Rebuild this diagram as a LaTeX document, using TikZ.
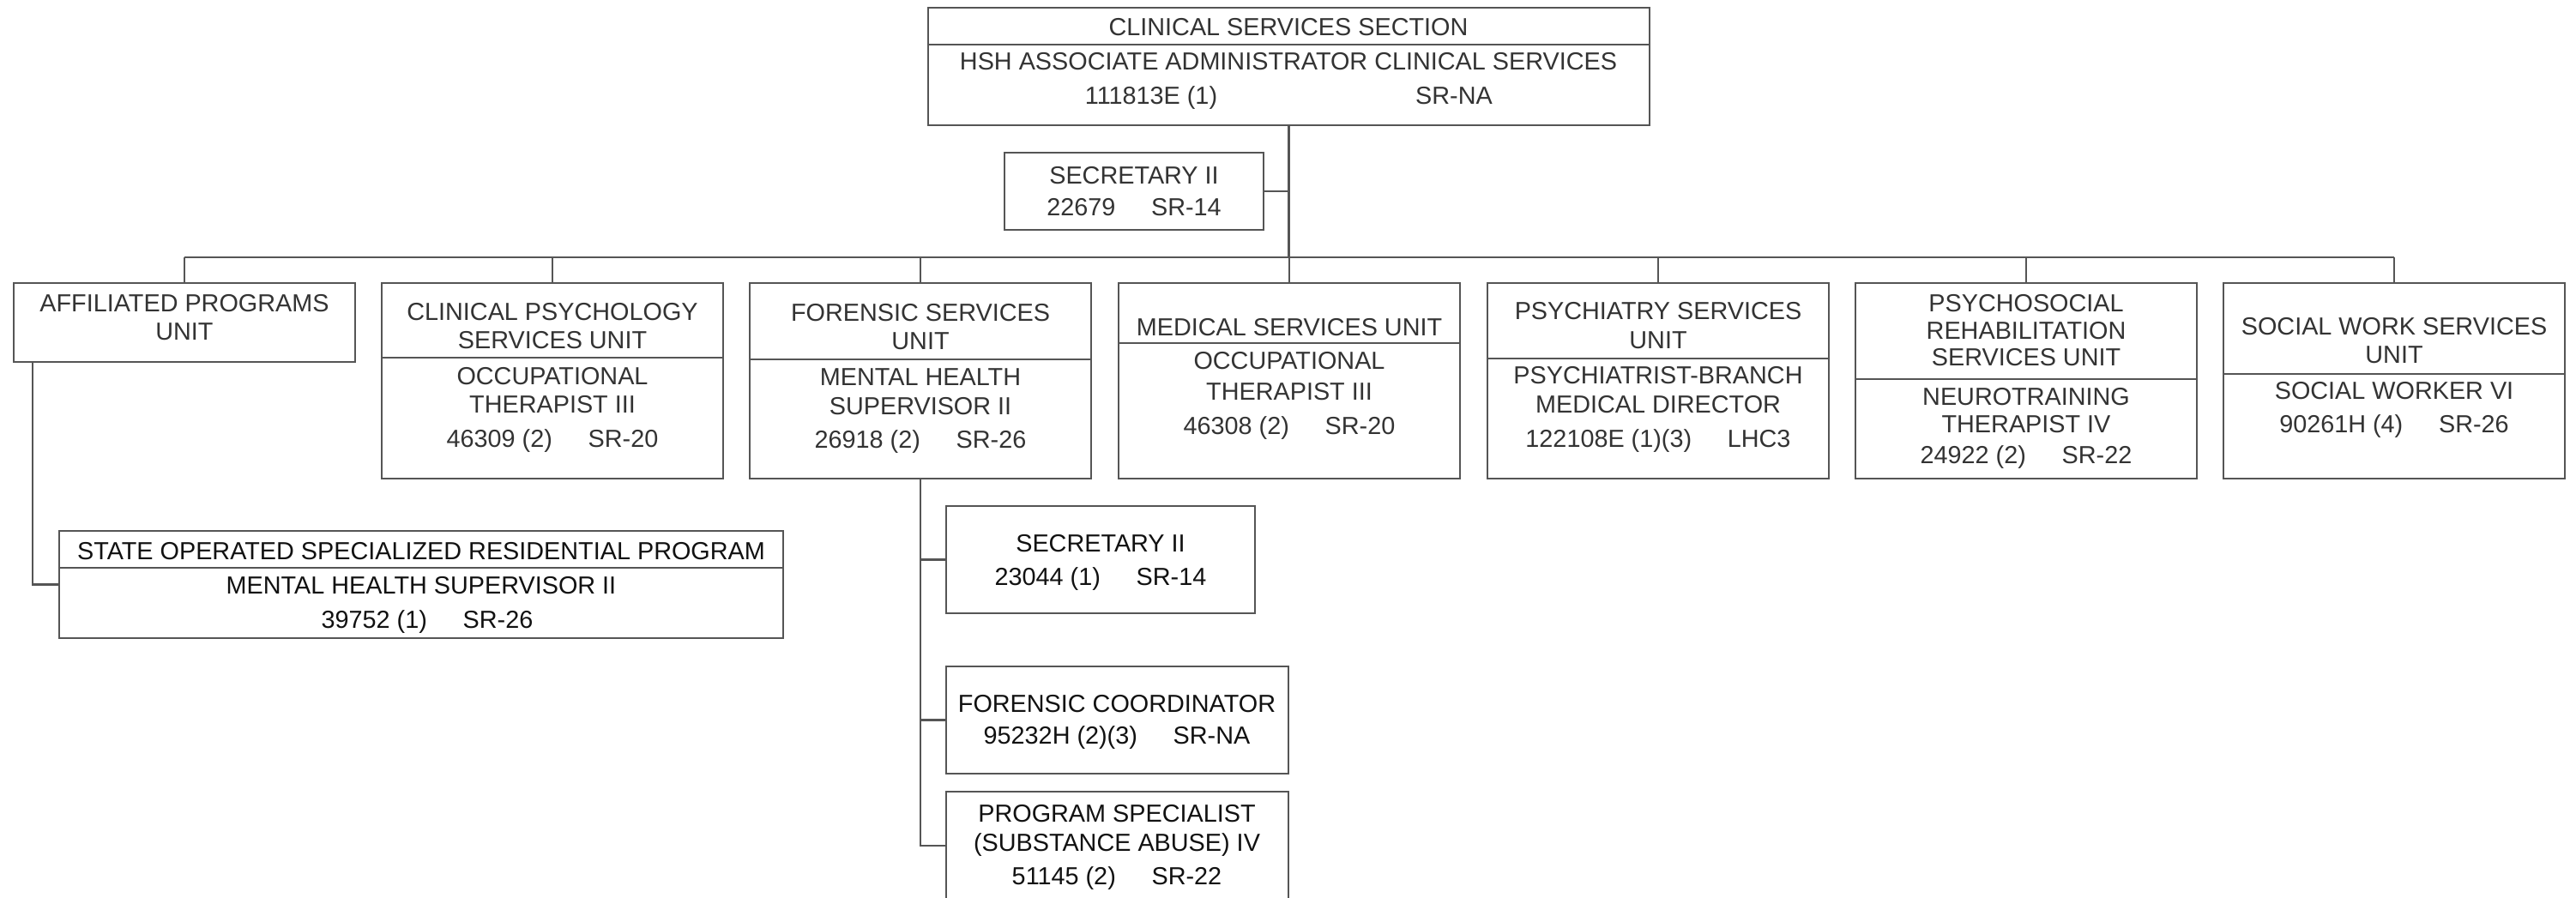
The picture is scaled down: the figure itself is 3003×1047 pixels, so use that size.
\documentclass[tikz,border=0pt]{standalone}
\usepackage{fontspec}
\setmainfont{Liberation Sans}
\usetikzlibrary{fit}
\definecolor{linec}{HTML}{555555}
\definecolor{txtc}{HTML}{333333}
\definecolor{txtd}{HTML}{111111}
\newcommand{\fsz}{\fontsize{7.2bp}{8.6bp}\selectfont}
\newcommand{\gp}{\hspace{1.45em}}
\begin{document}
\begin{tikzpicture}[x=0.25bp, y=-0.25bp,
  box/.style={draw=linec, line width=0.6bp, inner sep=0pt, rectangle},
  conn/.style={draw=linec, line width=0.6bp},
  t/.style={anchor=base, inner sep=0pt, font=\fsz, text=txtc},
  td/.style={t, text=txtd}]
\clip (0,0) rectangle (3003,1047);
\fill[white] (0,0) rectangle (3003,1047);

% boxes
\node[box, fit={(1082,9) (1923,146)}] (top) {};
\node[box, fit={(1171,178) (1473,268)}] (sec1) {};
\node[box, fit={(16,330) (414,422)}] (aff) {};
\node[box, fit={(445,330) (843,558)}] (cps) {};
\node[box, fit={(874,330) (1272,558)}] (fsu) {};
\node[box, fit={(1304,330) (1702,558)}] (msu) {};
\node[box, fit={(1734,330) (2132,558)}] (psu) {};
\node[box, fit={(2163,330) (2561,558)}] (prs) {};
\node[box, fit={(2592,330) (2990,558)}] (sws) {};
\node[box, fit={(69,619) (913,744)}] (sosrp) {};
\node[box, fit={(1103,590) (1463,715)}] (sec2) {};
\node[box, fit={(1103,777) (1502,902)}] (fco) {};
\node[box, fit={(1103,923) (1502,1049)}] (psp) {};

% dividers
\draw[conn] (top.west |- 0,52) -- (top.east |- 0,52);
\draw[conn] (cps.west |- 0,417) -- (cps.east |- 0,417);
\draw[conn] (fsu.west |- 0,419) -- (fsu.east |- 0,419);
\draw[conn] (msu.west |- 0,400) -- (msu.east |- 0,400);
\draw[conn] (psu.west |- 0,418) -- (psu.east |- 0,418);
\draw[conn] (prs.west |- 0,442) -- (prs.east |- 0,442);
\draw[conn] (sws.west |- 0,436) -- (sws.east |- 0,436);
\draw[conn] (sosrp.west |- 0,662) -- (sosrp.east |- 0,662);

% connectors
\coordinate (bus) at (0,300);
\coordinate (affx) at (38,0);
\draw[conn] (top.south) -- (top.south |- bus);
\draw[conn] (sec1.east) -- (sec1.east -| top.south);
\draw[conn] (aff.north |- bus) -- (sws.north |- bus);
\foreach \n in {aff,cps,fsu,msu,psu,prs,sws}
  \draw[conn] (\n.north) -- (\n.north |- bus);
\draw[conn] (affx |- aff.south) |- (sosrp.west);
\draw[conn] (fsu.south) |- (psp.west);
\draw[conn] (sec2.west) -- (sec2.west -| fsu.south);
\draw[conn] (fco.west) -- (fco.west -| fsu.south);

% texts
\node[t] (top1) at (1502,42) {CLINICAL SERVICES SECTION};
\node[t] (top2) at (1502,82) {HSH ASSOCIATE ADMINISTRATOR CLINICAL SERVICES};
\node[t] (top3) at (1342,122) {111813E (1)};
\node[t] (top4) at (1695,122) {SR-NA};

\node[t] (sec1a) at (1322,215) {SECRETARY II};
\node[t] (sec1b) at (1322,252) {22679\gp SR-14};

\node[t] (affa) at (215,364) {AFFILIATED PROGRAMS};
\node[t] (affb) at (215,397) {UNIT};

\node[t] (cpsa) at (644,374) {CLINICAL PSYCHOLOGY};
\node[t] (cpsb) at (644,407) {SERVICES UNIT};
\node[t] (cpsc) at (644,449) {OCCUPATIONAL};
\node[t] (cpsd) at (644,482) {THERAPIST III};
\node[t] (cpse) at (644,522) {46309 (2)\gp SR-20};

\node[t] (fsua) at (1073,375) {FORENSIC SERVICES};
\node[t] (fsub) at (1073,408) {UNIT};
\node[t] (fsuc) at (1073,450) {MENTAL HEALTH};
\node[t] (fsud) at (1073,484) {SUPERVISOR II};
\node[t] (fsue) at (1073,523) {26918 (2)\gp SR-26};

\node[t] (msua) at (1503,392) {MEDICAL SERVICES UNIT};
\node[t] (msub) at (1503,431) {OCCUPATIONAL};
\node[t] (msuc) at (1503,467) {THERAPIST III};
\node[t] (msud) at (1503,507) {46308 (2)\gp SR-20};

\node[t] (psua) at (1933,373) {PSYCHIATRY SERVICES};
\node[t] (psub) at (1933,407) {UNIT};
\node[t] (psuc) at (1933,448) {PSYCHIATRIST-BRANCH};
\node[t] (psud) at (1933,482) {MEDICAL DIRECTOR};
\node[t] (psue) at (1933,522) {122108E (1)(3)\gp LHC3};

\node[t] (prsa) at (2362,364) {PSYCHOSOCIAL};
\node[t] (prsb) at (2362,396) {REHABILITATION};
\node[t] (prsc) at (2362,427) {SERVICES UNIT};
\node[t] (prsd) at (2362,473) {NEUROTRAINING};
\node[t] (prse) at (2362,505) {THERAPIST IV};
\node[t] (prsf) at (2362,541) {24922 (2)\gp SR-22};

\node[t] (swsa) at (2791,391) {SOCIAL WORK SERVICES};
\node[t] (swsb) at (2791,424) {UNIT};
\node[t] (swsc) at (2791,466) {SOCIAL WORKER VI};
\node[t] (swsd) at (2791,505) {90261H (4)\gp SR-26};

\node[td] (sosa) at (491,653) {STATE OPERATED SPECIALIZED RESIDENTIAL PROGRAM};
\node[td] (sosb) at (491,693) {MENTAL HEALTH SUPERVISOR II};
\node[td] (sosc) at (498,733) {39752 (1)\gp SR-26};

\node[td] (sec2a) at (1283,644) {SECRETARY II};
\node[td] (sec2b) at (1283,683) {23044 (1)\gp SR-14};

\node[td] (fcoa) at (1302,831) {FORENSIC COORDINATOR};
\node[td] (fcob) at (1302,868) {95232H (2)(3)\gp SR-NA};

\node[td] (pspa) at (1302,958) {PROGRAM SPECIALIST};
\node[td] (pspb) at (1302,992) {(SUBSTANCE ABUSE) IV};
\node[td] (pspc) at (1302,1032) {51145 (2)\gp SR-22};
\end{tikzpicture}
\end{document}
